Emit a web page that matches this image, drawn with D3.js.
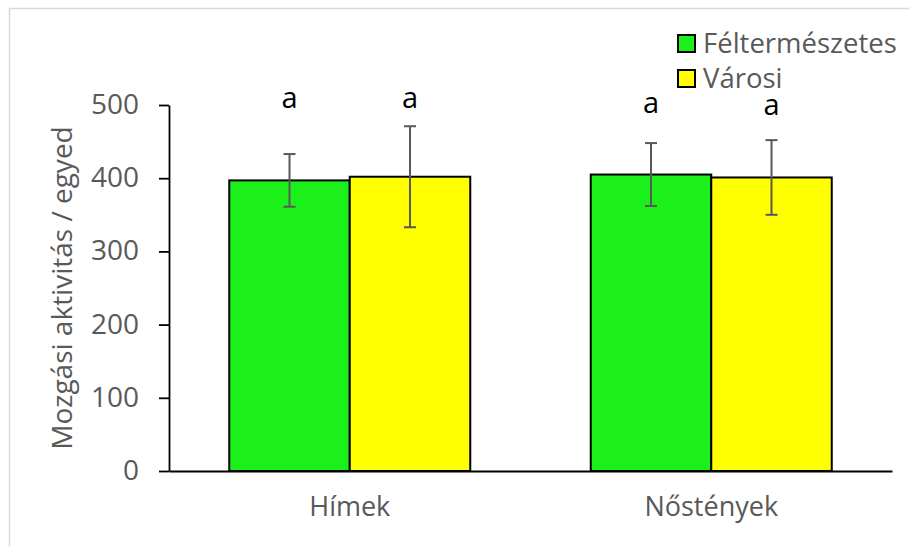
<!DOCTYPE html>
<html>
<head>
<meta charset="utf-8">
<script src="https://cdn.jsdelivr.net/npm/d3@7"></script>
<style>
  body { margin: 0; background: #fff; }
  svg { display: block; font-family: "Open Sans", sans-serif; }
</style>
</head>
<body>
<figure id="bar" style="margin:0"></figure>
<script>
// data
const categories = ["Hímek", "Nőstények"];
const seriesNames = ["Féltermészetes", "Városi"];
const felterValues = [397, 405];
const felterErrors = [36, 43];
const varosiValues = [402, 401];
const varosiErrors = [69, 51];
const letterLabels = ["a", "a", "a", "a"];
const letterLevels = [496, 496, 489, 486];   // where the letters sit, in axis units
const yTicks = [0, 100, 200, 300, 400, 500];
const colors = ["#1bf01b", "#ffff00"];

const width = 909, height = 546;
const margin = { top: 105, right: 17, bottom: 75, left: 169 };
const innerW = width - margin.left - margin.right;
const innerH = height - margin.top - margin.bottom;

const svg = d3.select("figure#bar")
  .append("svg")
  .attr("width", width)
  .attr("height", height);

// outer frame (only top and left visible in the crop)
svg.append("line").attr("x1", 9).attr("x2", width).attr("y1", 8.5).attr("y2", 8.5)
  .attr("stroke", "#d9d9d9").attr("stroke-width", 1.5);
svg.append("line").attr("x1", 9.5).attr("x2", 9.5).attr("y1", 8).attr("y2", height)
  .attr("stroke", "#d9d9d9").attr("stroke-width", 1.5);

const g = svg.append("g")
  .attr("transform", "translate(" + margin.left + "," + margin.top + ")");

const x0 = d3.scaleBand().domain(categories).range([0, innerW]).padding(0);
const x1 = d3.scaleBand().domain(seriesNames).range([0, x0.bandwidth()])
  .paddingInner(0).paddingOuter(0.5);
const y = d3.scaleLinear().domain([0, 500]).range([innerH, 0]);

const rows = [];
categories.forEach((c, i) => {
  rows.push({ cat: c, s: seriesNames[0], v: felterValues[i], e: felterErrors[i], color: colors[0] });
  rows.push({ cat: c, s: seriesNames[1], v: varosiValues[i], e: varosiErrors[i], color: colors[1] });
});

// y axis
const yAxis = g.append("g")
  .call(d3.axisLeft(y).tickValues(yTicks).tickSize(10).tickPadding(20).tickSizeOuter(0));
yAxis.select(".domain").attr("stroke", "#000").attr("stroke-width", 1.8);
yAxis.selectAll(".tick line").attr("stroke", "#000").attr("stroke-width", 1.8);
yAxis.selectAll(".tick text")
  .attr("fill", "#595959").style("font-size", "28px")
  .style("font-family", "'Open Sans', sans-serif").attr("dy", "0.3em");

// bars
g.selectAll("rect.bar")
  .data(rows)
  .enter()
  .append("rect")
  .attr("class", "bar")
  .attr("x", d => x0(d.cat) + x1(d.s))
  .attr("y", d => y(d.v))
  .attr("width", x1.bandwidth())
  .attr("height", d => innerH - y(d.v))
  .attr("fill", d => d.color)
  .attr("stroke", "#000")
  .attr("stroke-width", 2);

// x axis
const xAxis = g.append("g")
  .attr("transform", "translate(0," + innerH + ")")
  .call(d3.axisBottom(x0).tickSize(0).tickPadding(26));
xAxis.select(".domain").attr("stroke", "#000").attr("stroke-width", 1.8);
xAxis.selectAll(".tick text")
  .attr("fill", "#595959").style("font-size", "27px")
  .style("font-family", "'Open Sans', sans-serif");

// error bars
const cap = 6;
const err = g.selectAll("g.err").data(rows).enter().append("g")
  .attr("class", "err")
  .attr("stroke", "#595959").attr("stroke-width", 2);
err.append("line")
  .attr("x1", d => x0(d.cat) + x1(d.s) + x1.bandwidth() / 2)
  .attr("x2", d => x0(d.cat) + x1(d.s) + x1.bandwidth() / 2)
  .attr("y1", d => y(d.v + d.e)).attr("y2", d => y(d.v - d.e));
err.append("line")
  .attr("x1", d => x0(d.cat) + x1(d.s) + x1.bandwidth() / 2 - cap)
  .attr("x2", d => x0(d.cat) + x1(d.s) + x1.bandwidth() / 2 + cap)
  .attr("y1", d => y(d.v + d.e)).attr("y2", d => y(d.v + d.e));
err.append("line")
  .attr("x1", d => x0(d.cat) + x1(d.s) + x1.bandwidth() / 2 - cap)
  .attr("x2", d => x0(d.cat) + x1(d.s) + x1.bandwidth() / 2 + cap)
  .attr("y1", d => y(d.v - d.e)).attr("y2", d => y(d.v - d.e));

// significance letters
g.selectAll("text.letter")
  .data(rows)
  .enter()
  .append("text")
  .attr("class", "letter")
  .attr("x", d => x0(d.cat) + x1(d.s) + x1.bandwidth() / 2)
  .attr("y", (d, i) => y(letterLevels[i]))
  .attr("text-anchor", "middle")
  .attr("fill", "#000")
  .style("font-size", "29px")
  .text((d, i) => letterLabels[i]);

// y title
svg.append("text")
  .attr("transform", "translate(72," + (margin.top + y(250) + 0) + ") rotate(-90)")
  .attr("text-anchor", "middle")
  .attr("fill", "#595959")
  .style("font-size", "28px")
  .text("Mozgási aktivitás / egyed");

// legend
const legend = svg.append("g").attr("transform", "translate(678,35)");
const item = legend.selectAll("g").data(seriesNames).enter().append("g")
  .attr("transform", (d, i) => "translate(0," + i * 35 + ")");
item.append("rect")
  .attr("width", 17).attr("height", 17)
  .attr("fill", (d, i) => colors[i])
  .attr("stroke", "#000").attr("stroke-width", 2);
item.append("text")
  .attr("x", 25).attr("y", 18)
  .attr("fill", "#595959")
  .style("font-size", "27.5px")
  .text(d => d);
</script>
</body>
</html>
